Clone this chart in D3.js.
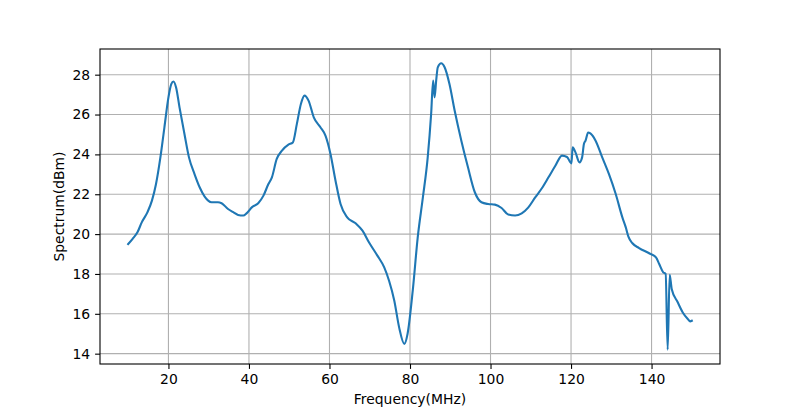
<!DOCTYPE html>
<html><head><meta charset="utf-8">
<script src="https://cdn.jsdelivr.net/npm/d3@7"></script>
<style>
html,body{margin:0;padding:0;background:#fff;}
svg{display:block;font-family:"DejaVu Sans",sans-serif;}
</style></head>
<body><svg id="chart" width="800" height="409"></svg>
<script>
const freq = [10,11.1,12.3,13.4,14.8,15.9,16.9,18,19,20,20.7,21.25,21.9,22.75,24,25.1,26.5,27.75,29,30.7,32.3,33.2,34.8,36.1,37.3,38.6,39.4,40.7,42.3,43.6,44.8,45.7,46.9,48.2,49.8,50.9,51.9,52.9,53.8,54.8,56.1,57.75,59,60.25,61.5,62.75,64.4,66.5,68.2,69.8,71.9,73.6,74.8,76.1,77.3,78.6,79.4,80.7,81.9,83.2,84.4,85.25,85.75,86.1,86.5,86.9,87.75,88.6,89.8,91.1,92.75,94.4,96.1,97.75,99.4,101.1,102.75,104.4,106.1,107.75,109.4,111.1,112.75,114.4,116.1,117.75,119,120.1,120.4,121.1,122.1,122.75,123.2,123.6,124.25,124.8,126.1,127.75,129.4,131.1,132.75,133.6,134.25,135.25,136.9,139.4,141.1,141.9,142.9,143.5,144.0,144.5,145,146.5,147.75,149,149.6,150];
const spectrum = [19.5,19.76,20.09,20.6,21.1,21.68,22.5,23.85,25.36,26.86,27.53,27.66,27.36,26.36,25.0,23.85,23.0,22.35,21.88,21.6,21.6,21.55,21.26,21.1,20.96,20.93,21.04,21.34,21.55,21.93,22.5,22.85,23.77,24.19,24.49,24.6,25.53,26.53,26.95,26.7,25.86,25.36,24.94,24.02,22.68,21.51,20.84,20.54,20.17,19.59,18.92,18.33,17.66,16.66,15.32,14.49,15.0,17.2,19.8,21.84,23.85,26.03,27.7,26.86,27.7,28.37,28.57,28.37,27.53,26.19,24.69,23.35,22.1,21.6,21.51,21.48,21.31,20.98,20.93,21.04,21.34,21.84,22.3,22.85,23.43,23.94,23.87,23.55,24.35,24.1,23.6,23.85,24.52,24.69,25.1,25.05,24.69,23.85,23.02,22.01,20.84,20.34,19.87,19.54,19.3,19.04,18.83,18.5,18.08,18.0,14.2,17.96,17.25,16.58,16.07,15.74,15.62,15.65];
const xTicks = [20,40,60,80,100,120,140];
const yTicks = [14,16,18,20,22,24,26,28];
const xLabel = "Frequency(MHz)";
const yLabel = "Spectrum(dBm)";

const svg = d3.select("#chart");
const L = 100, R = 720, T = 49, B = 364;
const xmin = d3.min(freq), xmax = d3.max(freq);
const ymin = d3.min(spectrum), ymax = d3.max(spectrum);
const xm = (xmax - xmin) * 0.05, ym = (ymax - ymin) * 0.05;
const x = d3.scaleLinear().domain([xmin - xm, xmax + xm]).range([L, R]);
const y = d3.scaleLinear().domain([ymin - ym, ymax + ym]).range([B, T]);

// grid
const g = svg.append("g");
g.selectAll(".gx").data(xTicks).join("line")
  .attr("x1", d => x(d)).attr("x2", d => x(d)).attr("y1", T).attr("y2", B)
  .attr("stroke", "#b0b0b0").attr("stroke-width", 1.1);
g.selectAll(".gy").data(yTicks).join("line")
  .attr("y1", d => y(d)).attr("y2", d => y(d)).attr("x1", L).attr("x2", R)
  .attr("stroke", "#b0b0b0").attr("stroke-width", 1.1);

// line
const line = d3.line().x((d, i) => x(freq[i])).y(d => y(d)).curve(d3.curveMonotoneX);
svg.append("path").datum(spectrum).attr("d", line)
  .attr("fill", "none").attr("stroke", "#1f77b4").attr("stroke-width", 2.1)
  .attr("stroke-linejoin", "round").attr("stroke-linecap", "square");

// axes
const xAxis = d3.axisBottom(x).tickValues(xTicks).tickSize(4.9).tickPadding(4.9).tickFormat(d3.format("d"));
const yAxis = d3.axisLeft(y).tickValues(yTicks).tickSize(4.9).tickPadding(4.9).tickFormat(d3.format("d"));
const gx = svg.append("g").attr("transform", `translate(0,${B})`).call(xAxis);
const gy = svg.append("g").attr("transform", `translate(${L},0)`).call(yAxis);
[gx, gy].forEach(a => {
  a.select(".domain").remove();
  a.selectAll(".tick line").attr("stroke", "#000").attr("stroke-width", 1.1);
  a.selectAll(".tick text").attr("fill", "#000").style("font-size", "13.9px").style("font-family", "DejaVu Sans");
});

// frame
svg.append("rect").attr("x", L).attr("y", T).attr("width", R - L).attr("height", B - T)
  .attr("fill", "none").attr("stroke", "#000").attr("stroke-width", 1.1);

svg.append("text").attr("x", (L + R) / 2).attr("y", 404).attr("text-anchor", "middle")
  .style("font-size", "13.9px").text(xLabel);
svg.append("text").attr("transform", `translate(64,${(T + B) / 2}) rotate(-90)`).attr("text-anchor", "middle")
  .style("font-size", "13.9px").text(yLabel);
</script></body></html>
